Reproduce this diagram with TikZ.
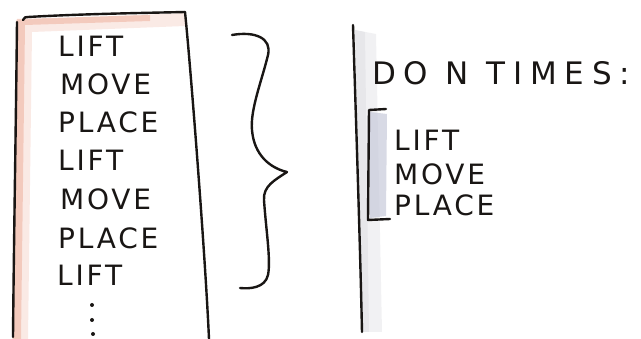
\documentclass[tikz,border=0pt]{standalone}
\usepackage{fontspec}
\setmainfont{DejaVu Sans}[LetterSpace=10]
\definecolor{pinkedge}{RGB}{236,170,150}
\definecolor{shadegray}{RGB}{215,215,220}
\definecolor{bracketblue}{RGB}{200,202,218}
\definecolor{inkc}{RGB}{25,22,20}
\begin{document}
\begin{tikzpicture}[x=1pt,y=-1pt,
  ink/.style={line width=2.4pt, line cap=round, line join=round, draw=inkc},
  word/.style={anchor=west, inner sep=0pt, font=\fontsize{28}{28}\selectfont, text=inkc},
  bigword/.style={anchor=west, inner sep=0pt, font=\fontsize{31}{31}\selectfont\addfontfeatures{LetterSpace=25}, text=inkc}]
\useasboundingbox (0,0) rectangle (641,339);
% shading of the paper strip
\fill[pinkedge, opacity=.25] (16,20) -- (185,13) -- (185,26) -- (32,32) -- (28,339) -- (12,339) -- cycle;
\fill[pinkedge, opacity=.5] (17,19) -- (150,15) -- (150,21) -- (25,25) -- (21,339) -- (13,339) -- cycle;
% gray shading right of the divider
\fill[shadegray, opacity=.35] (355,30) -- (376,34) -- (382,332) -- (362,332) -- cycle;
\fill[shadegray, opacity=.4] (355,30) -- (365,32) -- (369,332) -- (362,332) -- cycle;
% shading inside bracket
\fill[bracketblue, opacity=.7] (370,112) -- (387,114) -- (386,216) -- (370,218) -- cycle;
% paper strip outline
\draw[ink] (17,22) .. controls (16,120) and (14,230) .. (13,337);
\draw[ink] (23,20) .. controls (24,17) and (26,17) .. (28,17) .. controls (80,14) and (140,13) .. (185,12);
\draw[ink] (185,12) .. controls (190,60) and (205,250) .. (209,339);
% list on strip
\node[word] (l1) at (58,46) {LIFT};
\node[word] (l2) at (60,84) {MOVE};
\node[word] (l3) at (58,122) {PLACE};
\node[word] (l4) at (58,160) {LIFT};
\node[word] (l5) at (60,199) {MOVE};
\node[word] (l6) at (58,238) {PLACE};
\node[word] (l7) at (57,275) {LIFT};
\fill[inkc] (92,305) circle (2);
\fill[inkc] (92,320) circle (2);
\fill[inkc] (93,334) circle (2);
% brace
\draw[ink] (232,35) .. controls (255,31) and (272,38) .. (268,55)
  .. controls (262,80) and (250,110) .. (252,130)
  .. controls (254,155) and (270,168) .. (287,172)
  .. controls (275,180) and (263,186) .. (264,200)
  .. controls (266,230) and (271,260) .. (268,275)
  .. controls (265,288) and (250,289) .. (240,288);
% divider
\draw[ink] (353,25) .. controls (356,120) and (360,240) .. (362,332);
% loop text
\node[bigword] (r0) at (372,73) {DO N TIMES:};
\draw[ink] (386,109) -- (369,110) -- (368,220) -- (390,219);
\node[word] (r1) at (394,140) {LIFT};
\node[word] (r2) at (394,174) {MOVE};
\node[word] (r3) at (394,205) {PLACE};
\end{tikzpicture}
\end{document}
